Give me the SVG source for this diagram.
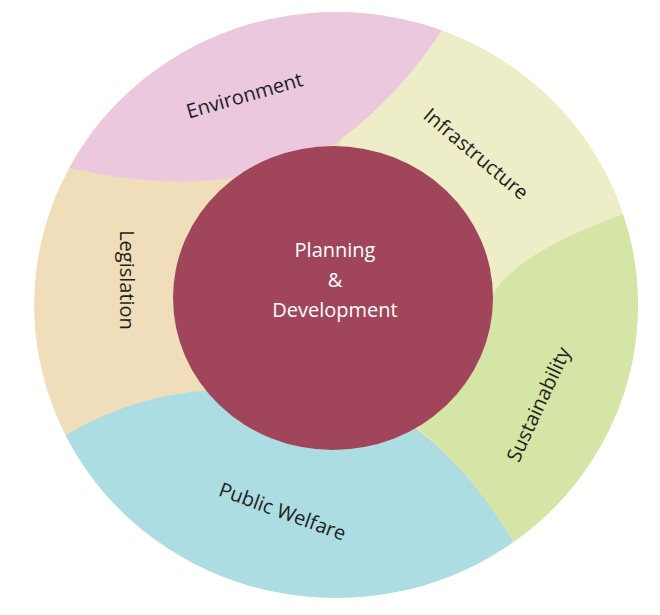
<svg xmlns="http://www.w3.org/2000/svg" width="660" height="615" viewBox="0 0 660 615">
<style>
.l{font-family:"Open Sans","Liberation Sans",sans-serif;font-size:20px;fill:#231f20;text-anchor:middle;dominant-baseline:middle}
.c{font-family:"Open Sans","Liberation Sans",sans-serif;font-size:20px;fill:#fff;text-anchor:middle}
</style>
<defs><clipPath id="oc"><ellipse cx="336" cy="305" rx="302" ry="293"/></clipPath></defs>
<rect width="660" height="615" fill="#fff"/>
<g id="segments" clip-path="url(#oc)">
<ellipse id="legislation-bg" cx="336" cy="305" rx="302" ry="293" fill="#efdeb9"/>
<path id="infrastructure-bg" d="M350,0 L660,0 L660,212 L622,215 Q520,250 490,300 L330,300 Z" fill="#ededc8"/>
<path id="environment-bg" d="M0,160 L70,168 Q230,205 340,140 Q400,95 442,30 L450,0 L0,0 Z" fill="#ebc8de"/>
<path id="sustainability-bg" d="M622,215 Q510,255 490,300 L420,430 Q470,470 512,540 L660,615 L660,215 Z" fill="#d5e5a6"/>
<path id="welfare-bg" d="M66,435 Q150,385 250,390 Q380,395 420,432 Q470,470 512,540 L540,615 L0,615 L0,435 Z" fill="#acdde2"/>
</g>
<g id="center"><ellipse cx="333" cy="298" rx="160" ry="152" fill="#a0455a"/>
<text class="c" x="335" y="257">Planning</text><text class="c" x="335" y="287">&amp;</text><text class="c" x="335" y="317">Development</text></g>
<g id="labels">
<text class="l" transform="translate(245,97) rotate(-16)">Environment</text>
<text class="l" transform="translate(475,155) rotate(40)">Infrastructure</text>
<text class="l" transform="translate(125,280) rotate(90)">Legislation</text>
<text class="l" transform="translate(540,405) rotate(-65)">Sustainability</text>
<text class="l" transform="translate(282,513) rotate(20)">Public Welfare</text>
</g>
</svg>
